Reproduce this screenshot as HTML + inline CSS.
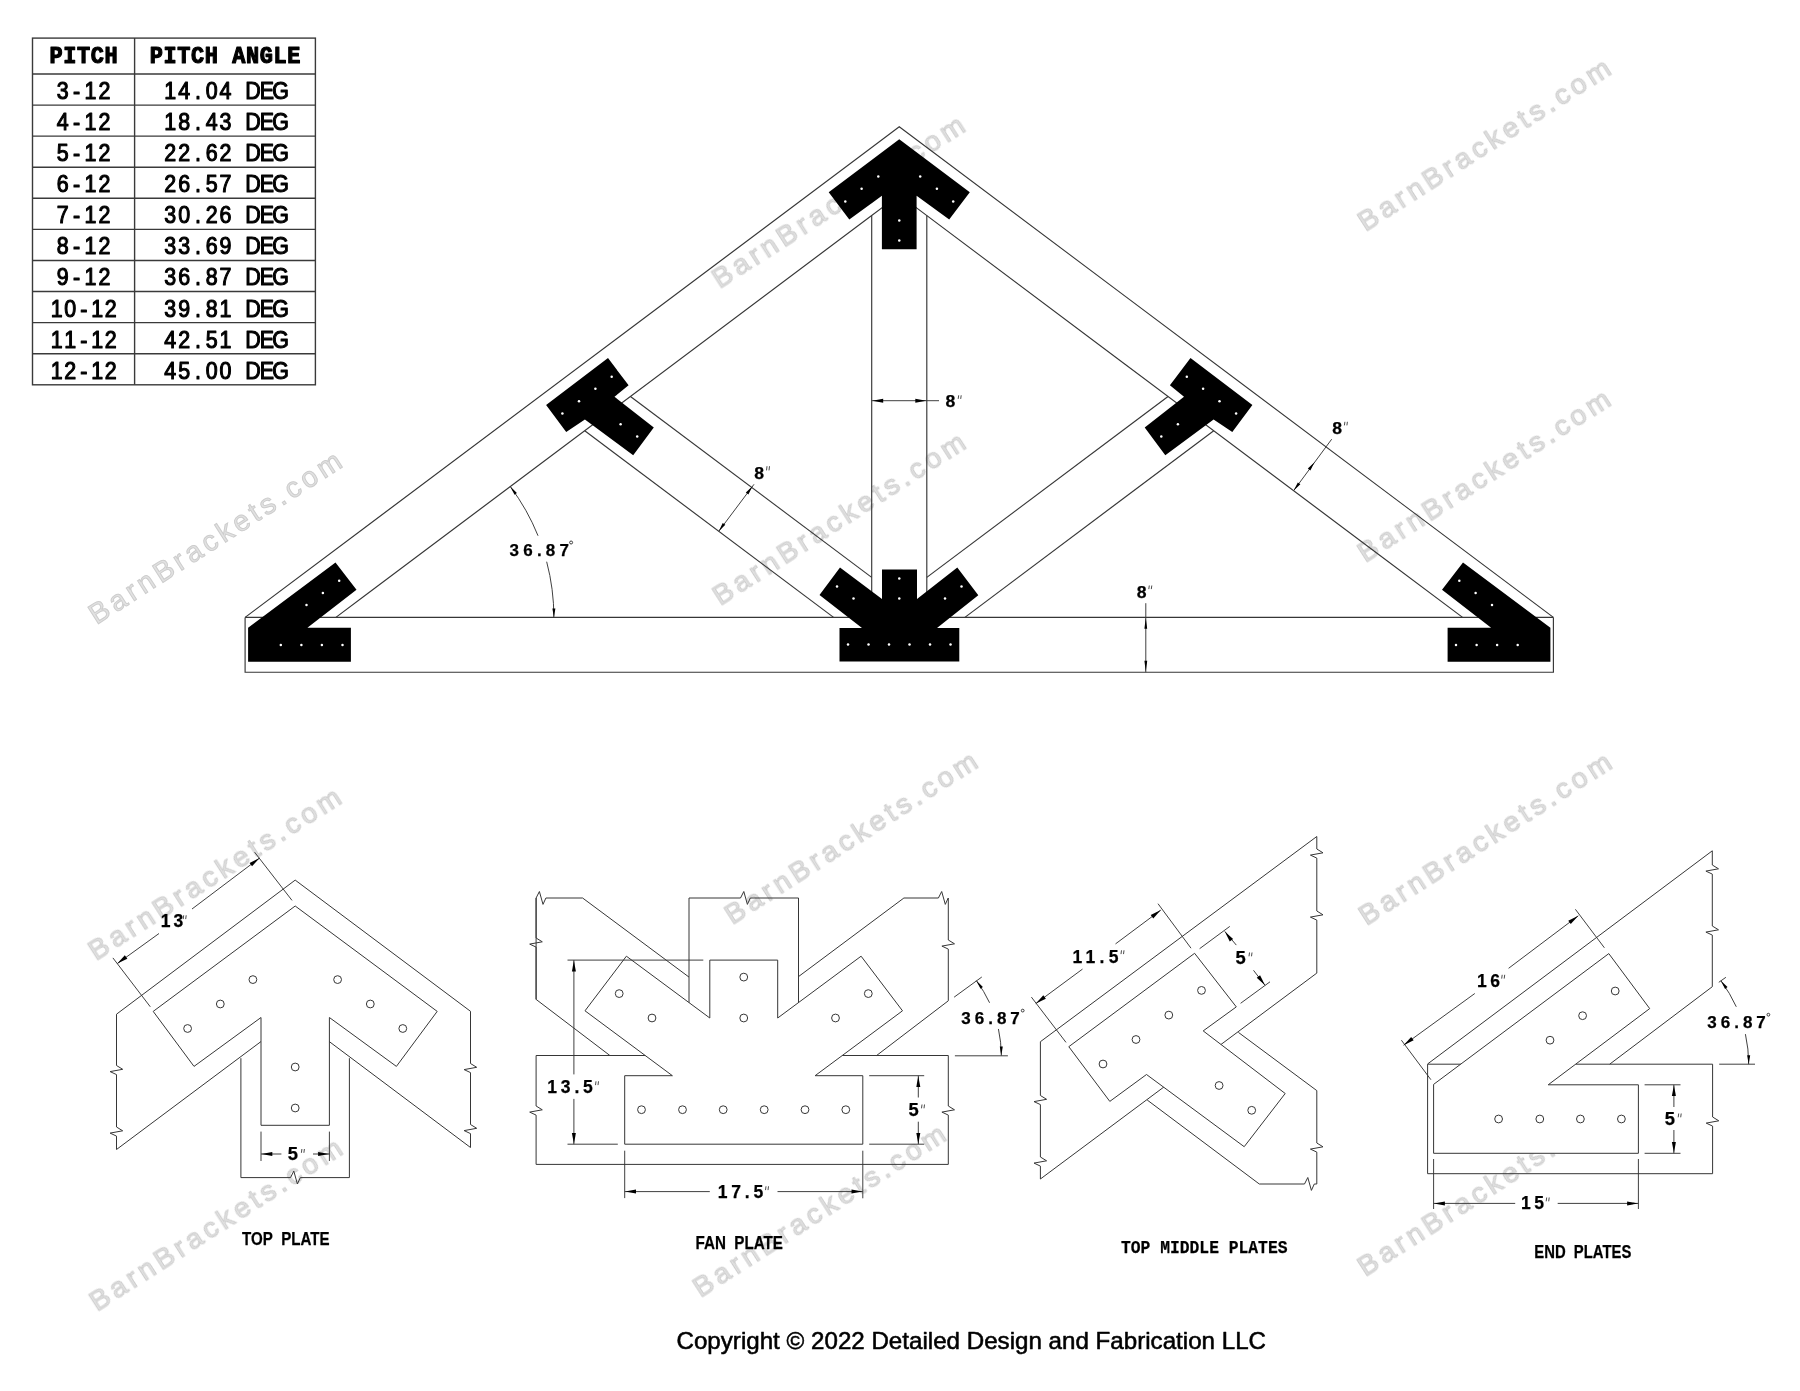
<!DOCTYPE html><html><head><meta charset="utf-8"><style>html,body{margin:0;padding:0;background:#fff;overflow:hidden}svg{display:block;filter:grayscale(1)}</style></head><body>
<svg width="1800" height="1391" viewBox="0 0 1800 1391">
<rect width="1800" height="1391" fill="#fff"/>
<defs><filter id="wb" x="-5%" y="-5%" width="110%" height="110%"><feGaussianBlur stdDeviation="0.45"/></filter></defs>
<g filter="url(#wb)">
<text x="96.5" y="625.1" transform="rotate(-32.7 96.5 625.1)" font-family="Liberation Sans" font-size="28.5" font-weight="normal" fill="#e2e2e2" stroke="#cdcdcd" stroke-width="1.0" textLength="294" lengthAdjust="spacing">BarnBrackets.com</text>
<text x="96.1" y="961.2" transform="rotate(-32.7 96.1 961.2)" font-family="Liberation Sans" font-size="28.5" font-weight="normal" fill="#e2e2e2" stroke="#cdcdcd" stroke-width="1.0" textLength="294" lengthAdjust="spacing">BarnBrackets.com</text>
<text x="96.9" y="1311.9" transform="rotate(-32.7 96.9 1311.9)" font-family="Liberation Sans" font-size="28.5" font-weight="normal" fill="#e2e2e2" stroke="#cdcdcd" stroke-width="1.0" textLength="294" lengthAdjust="spacing">BarnBrackets.com</text>
<text x="719.7" y="289.2" transform="rotate(-32.7 719.7 289.2)" font-family="Liberation Sans" font-size="28.5" font-weight="normal" fill="#e2e2e2" stroke="#cdcdcd" stroke-width="1.0" textLength="294" lengthAdjust="spacing">BarnBrackets.com</text>
<text x="720.5" y="606.4" transform="rotate(-32.7 720.5 606.4)" font-family="Liberation Sans" font-size="28.5" font-weight="normal" fill="#e2e2e2" stroke="#cdcdcd" stroke-width="1.0" textLength="294" lengthAdjust="spacing">BarnBrackets.com</text>
<text x="732.6" y="925.4" transform="rotate(-32.7 732.6 925.4)" font-family="Liberation Sans" font-size="28.5" font-weight="normal" fill="#e2e2e2" stroke="#cdcdcd" stroke-width="1.0" textLength="294" lengthAdjust="spacing">BarnBrackets.com</text>
<text x="700.5" y="1297.9" transform="rotate(-32.7 700.5 1297.9)" font-family="Liberation Sans" font-size="28.5" font-weight="normal" fill="#e2e2e2" stroke="#cdcdcd" stroke-width="1.0" textLength="294" lengthAdjust="spacing">BarnBrackets.com</text>
<text x="1365.3" y="231.6" transform="rotate(-32.7 1365.3 231.6)" font-family="Liberation Sans" font-size="28.5" font-weight="normal" fill="#e2e2e2" stroke="#cdcdcd" stroke-width="1.0" textLength="294" lengthAdjust="spacing">BarnBrackets.com</text>
<text x="1365.3" y="563" transform="rotate(-32.7 1365.3 563)" font-family="Liberation Sans" font-size="28.5" font-weight="normal" fill="#e2e2e2" stroke="#cdcdcd" stroke-width="1.0" textLength="294" lengthAdjust="spacing">BarnBrackets.com</text>
<text x="1366.3" y="925.7" transform="rotate(-32.7 1366.3 925.7)" font-family="Liberation Sans" font-size="28.5" font-weight="normal" fill="#e2e2e2" stroke="#cdcdcd" stroke-width="1.0" textLength="294" lengthAdjust="spacing">BarnBrackets.com</text>
<text x="1365.3" y="1277.1" transform="rotate(-32.7 1365.3 1277.1)" font-family="Liberation Sans" font-size="28.5" font-weight="normal" fill="#e2e2e2" stroke="#cdcdcd" stroke-width="1.0" textLength="294" lengthAdjust="spacing">BarnBrackets.com</text>
</g>
<rect x="32.5" y="38.1" width="282.9" height="346.7" fill="none" stroke="#3a3a3a" stroke-width="1.4"/>
<line x1="134.6" y1="38.1" x2="134.6" y2="384.8" stroke="#3a3a3a" stroke-width="1.4"/>
<line x1="32.5" y1="74" x2="315.4" y2="74" stroke="#3a3a3a" stroke-width="1.4"/>
<line x1="32.5" y1="105.08" x2="315.4" y2="105.08" stroke="#3a3a3a" stroke-width="1.4"/>
<line x1="32.5" y1="136.16" x2="315.4" y2="136.16" stroke="#3a3a3a" stroke-width="1.4"/>
<line x1="32.5" y1="167.24" x2="315.4" y2="167.24" stroke="#3a3a3a" stroke-width="1.4"/>
<line x1="32.5" y1="198.32" x2="315.4" y2="198.32" stroke="#3a3a3a" stroke-width="1.4"/>
<line x1="32.5" y1="229.4" x2="315.4" y2="229.4" stroke="#3a3a3a" stroke-width="1.4"/>
<line x1="32.5" y1="260.48" x2="315.4" y2="260.48" stroke="#3a3a3a" stroke-width="1.4"/>
<line x1="32.5" y1="291.56" x2="315.4" y2="291.56" stroke="#3a3a3a" stroke-width="1.4"/>
<line x1="32.5" y1="322.64" x2="315.4" y2="322.64" stroke="#3a3a3a" stroke-width="1.4"/>
<line x1="32.5" y1="353.72" x2="315.4" y2="353.72" stroke="#3a3a3a" stroke-width="1.4"/>
<text x="62.22 77.5 92.78 108.06 123.33" y="63.1" transform="scale(0.9 1)" text-anchor="middle" font-family="Liberation Mono" font-size="24.3" font-weight="bold" fill="#000" stroke="#000" stroke-width="1.2" stroke-linejoin="round">PITCH</text>
<text x="173.61 188.89 204.17 219.44 234.72 250 265.28 280.56 295.83 311.11 326.39" y="63.1" transform="scale(0.9 1)" text-anchor="middle" font-family="Liberation Mono" font-size="24.3" font-weight="bold" fill="#000" stroke="#000" stroke-width="1.2" stroke-linejoin="round">PITCH&#160;ANGLE</text>
<text x="69.67 85.11 100.56 116" y="98.9" transform="scale(0.9 1)" text-anchor="middle" font-family="Liberation Sans" font-size="23.8" font-weight="normal" fill="#000" stroke="#000" stroke-width="1.1" stroke-linejoin="round">3-12</text>
<text x="189.22 204.56 219.89 235.22 250.56 265.89 281.22 296.56 311.89" y="98.9" transform="scale(0.9 1)" text-anchor="middle" font-family="Liberation Sans" font-size="23.8" font-weight="normal" fill="#000" stroke="#000" stroke-width="1.1" stroke-linejoin="round">14.04&#160;DEG</text>
<text x="69.67 85.11 100.56 116" y="129.99" transform="scale(0.9 1)" text-anchor="middle" font-family="Liberation Sans" font-size="23.8" font-weight="normal" fill="#000" stroke="#000" stroke-width="1.1" stroke-linejoin="round">4-12</text>
<text x="189.22 204.56 219.89 235.22 250.56 265.89 281.22 296.56 311.89" y="129.99" transform="scale(0.9 1)" text-anchor="middle" font-family="Liberation Sans" font-size="23.8" font-weight="normal" fill="#000" stroke="#000" stroke-width="1.1" stroke-linejoin="round">18.43&#160;DEG</text>
<text x="69.67 85.11 100.56 116" y="161.08" transform="scale(0.9 1)" text-anchor="middle" font-family="Liberation Sans" font-size="23.8" font-weight="normal" fill="#000" stroke="#000" stroke-width="1.1" stroke-linejoin="round">5-12</text>
<text x="189.22 204.56 219.89 235.22 250.56 265.89 281.22 296.56 311.89" y="161.08" transform="scale(0.9 1)" text-anchor="middle" font-family="Liberation Sans" font-size="23.8" font-weight="normal" fill="#000" stroke="#000" stroke-width="1.1" stroke-linejoin="round">22.62&#160;DEG</text>
<text x="69.67 85.11 100.56 116" y="192.17" transform="scale(0.9 1)" text-anchor="middle" font-family="Liberation Sans" font-size="23.8" font-weight="normal" fill="#000" stroke="#000" stroke-width="1.1" stroke-linejoin="round">6-12</text>
<text x="189.22 204.56 219.89 235.22 250.56 265.89 281.22 296.56 311.89" y="192.17" transform="scale(0.9 1)" text-anchor="middle" font-family="Liberation Sans" font-size="23.8" font-weight="normal" fill="#000" stroke="#000" stroke-width="1.1" stroke-linejoin="round">26.57&#160;DEG</text>
<text x="69.67 85.11 100.56 116" y="223.26" transform="scale(0.9 1)" text-anchor="middle" font-family="Liberation Sans" font-size="23.8" font-weight="normal" fill="#000" stroke="#000" stroke-width="1.1" stroke-linejoin="round">7-12</text>
<text x="189.22 204.56 219.89 235.22 250.56 265.89 281.22 296.56 311.89" y="223.26" transform="scale(0.9 1)" text-anchor="middle" font-family="Liberation Sans" font-size="23.8" font-weight="normal" fill="#000" stroke="#000" stroke-width="1.1" stroke-linejoin="round">30.26&#160;DEG</text>
<text x="69.67 85.11 100.56 116" y="254.35" transform="scale(0.9 1)" text-anchor="middle" font-family="Liberation Sans" font-size="23.8" font-weight="normal" fill="#000" stroke="#000" stroke-width="1.1" stroke-linejoin="round">8-12</text>
<text x="189.22 204.56 219.89 235.22 250.56 265.89 281.22 296.56 311.89" y="254.35" transform="scale(0.9 1)" text-anchor="middle" font-family="Liberation Sans" font-size="23.8" font-weight="normal" fill="#000" stroke="#000" stroke-width="1.1" stroke-linejoin="round">33.69&#160;DEG</text>
<text x="69.67 85.11 100.56 116" y="285.44" transform="scale(0.9 1)" text-anchor="middle" font-family="Liberation Sans" font-size="23.8" font-weight="normal" fill="#000" stroke="#000" stroke-width="1.1" stroke-linejoin="round">9-12</text>
<text x="189.22 204.56 219.89 235.22 250.56 265.89 281.22 296.56 311.89" y="285.44" transform="scale(0.9 1)" text-anchor="middle" font-family="Liberation Sans" font-size="23.8" font-weight="normal" fill="#000" stroke="#000" stroke-width="1.1" stroke-linejoin="round">36.87&#160;DEG</text>
<text x="63.11 78.11 93.11 108.11 123.11" y="316.53" transform="scale(0.9 1)" text-anchor="middle" font-family="Liberation Sans" font-size="23.8" font-weight="normal" fill="#000" stroke="#000" stroke-width="1.1" stroke-linejoin="round">10-12</text>
<text x="189.22 204.56 219.89 235.22 250.56 265.89 281.22 296.56 311.89" y="316.53" transform="scale(0.9 1)" text-anchor="middle" font-family="Liberation Sans" font-size="23.8" font-weight="normal" fill="#000" stroke="#000" stroke-width="1.1" stroke-linejoin="round">39.81&#160;DEG</text>
<text x="63.11 78.11 93.11 108.11 123.11" y="347.62" transform="scale(0.9 1)" text-anchor="middle" font-family="Liberation Sans" font-size="23.8" font-weight="normal" fill="#000" stroke="#000" stroke-width="1.1" stroke-linejoin="round">11-12</text>
<text x="189.22 204.56 219.89 235.22 250.56 265.89 281.22 296.56 311.89" y="347.62" transform="scale(0.9 1)" text-anchor="middle" font-family="Liberation Sans" font-size="23.8" font-weight="normal" fill="#000" stroke="#000" stroke-width="1.1" stroke-linejoin="round">42.51&#160;DEG</text>
<text x="63.11 78.11 93.11 108.11 123.11" y="378.71" transform="scale(0.9 1)" text-anchor="middle" font-family="Liberation Sans" font-size="23.8" font-weight="normal" fill="#000" stroke="#000" stroke-width="1.1" stroke-linejoin="round">12-12</text>
<text x="189.22 204.56 219.89 235.22 250.56 265.89 281.22 296.56 311.89" y="378.71" transform="scale(0.9 1)" text-anchor="middle" font-family="Liberation Sans" font-size="23.8" font-weight="normal" fill="#000" stroke="#000" stroke-width="1.1" stroke-linejoin="round">45.00&#160;DEG</text>
<polyline points="245.1,617.4 245.1,672.2 1553.4,672.2 1553.4,617.4" fill="none" stroke="#363636" stroke-width="1.15" stroke-linejoin="miter"/>
<line x1="245.1" y1="617.4" x2="1553.4" y2="617.4" stroke="#363636" stroke-width="1.15"/>
<polyline points="245.1,617.4 899.25,126.79 1553.4,617.4" fill="none" stroke="#363636" stroke-width="1.15" stroke-linejoin="miter"/>
<polyline points="335.9,617.4 899.25,194.89 1462.6,617.4" fill="none" stroke="#363636" stroke-width="1.15" stroke-linejoin="miter"/>
<line x1="871.7" y1="215.55" x2="871.7" y2="617.4" stroke="#363636" stroke-width="1.15"/>
<line x1="926.8" y1="215.55" x2="926.8" y2="617.4" stroke="#363636" stroke-width="1.15"/>
<line x1="630.47" y1="396.48" x2="871.7" y2="577.4" stroke="#363636" stroke-width="1.15"/>
<line x1="584.75" y1="430.76" x2="833.6" y2="617.4" stroke="#363636" stroke-width="1.15"/>
<line x1="1168.03" y1="396.48" x2="926.8" y2="577.4" stroke="#363636" stroke-width="1.15"/>
<line x1="1213.75" y1="430.76" x2="964.9" y2="617.4" stroke="#363636" stroke-width="1.15"/>
<polygon points="899.25,139.3 969.8,192.3 949.2,219.5 916.6,195.8 916.6,249.2 881.9,249.2 881.9,195.8 849.3,219.5 828.7,192.3" fill="#000" stroke="none" stroke-width="1.1"/>
<polygon points="546.1,404.9 608,358.1 628.6,385.3 614.5,396.8 653.8,427.5 633.2,455.2 584.9,419.5 566.2,432.1" fill="#000" stroke="none" stroke-width="1.1"/>
<polygon points="1252.4,404.9 1190.5,358.1 1169.9,385.3 1184,396.8 1144.7,427.5 1165.3,455.2 1213.6,419.5 1232.3,432.1" fill="#000" stroke="none" stroke-width="1.1"/>
<polygon points="839.5,628 862,628 819.5,595 840,567.5 882,599 882,569.5 917,569.5 917,599 957.3,567.5 978.3,595.3 937,628 959.3,628 959.3,661.5 839.5,661.5" fill="#000" stroke="none" stroke-width="1.1"/>
<polygon points="248.1,661.7 248.1,627.8 335.5,562.6 356.5,589.7 307.4,627.8 350.9,627.8 350.9,661.7" fill="#000" stroke="none" stroke-width="1.1"/>
<polygon points="1550.4,661.7 1550.4,627.8 1463,562.6 1442,589.7 1491.1,627.8 1447.6,627.8 1447.6,661.7" fill="#000" stroke="none" stroke-width="1.1"/>
<circle cx="845.3" cy="201.4" r="1.25" fill="#fff" stroke="none" stroke-width="1.0"/>
<circle cx="953.2" cy="201.4" r="1.25" fill="#fff" stroke="none" stroke-width="1.0"/>
<circle cx="861.6" cy="188.8" r="1.25" fill="#fff" stroke="none" stroke-width="1.0"/>
<circle cx="936.9" cy="188.8" r="1.25" fill="#fff" stroke="none" stroke-width="1.0"/>
<circle cx="878.3" cy="176.5" r="1.25" fill="#fff" stroke="none" stroke-width="1.0"/>
<circle cx="920.2" cy="176.5" r="1.25" fill="#fff" stroke="none" stroke-width="1.0"/>
<circle cx="899.25" cy="220.4" r="1.25" fill="#fff" stroke="none" stroke-width="1.0"/>
<circle cx="899.25" cy="240.5" r="1.25" fill="#fff" stroke="none" stroke-width="1.0"/>
<circle cx="562.4" cy="413.4" r="1.25" fill="#fff" stroke="none" stroke-width="1.0"/>
<circle cx="1236.1" cy="413.4" r="1.25" fill="#fff" stroke="none" stroke-width="1.0"/>
<circle cx="579" cy="401.2" r="1.25" fill="#fff" stroke="none" stroke-width="1.0"/>
<circle cx="1219.5" cy="401.2" r="1.25" fill="#fff" stroke="none" stroke-width="1.0"/>
<circle cx="595.4" cy="388.8" r="1.25" fill="#fff" stroke="none" stroke-width="1.0"/>
<circle cx="1203.1" cy="388.8" r="1.25" fill="#fff" stroke="none" stroke-width="1.0"/>
<circle cx="611.7" cy="376.7" r="1.25" fill="#fff" stroke="none" stroke-width="1.0"/>
<circle cx="1186.8" cy="376.7" r="1.25" fill="#fff" stroke="none" stroke-width="1.0"/>
<circle cx="620.6" cy="424.2" r="1.25" fill="#fff" stroke="none" stroke-width="1.0"/>
<circle cx="1177.9" cy="424.2" r="1.25" fill="#fff" stroke="none" stroke-width="1.0"/>
<circle cx="637.2" cy="436.4" r="1.25" fill="#fff" stroke="none" stroke-width="1.0"/>
<circle cx="1161.3" cy="436.4" r="1.25" fill="#fff" stroke="none" stroke-width="1.0"/>
<circle cx="848" cy="644.5" r="1.25" fill="#fff" stroke="none" stroke-width="1.0"/>
<circle cx="868.5" cy="644.5" r="1.25" fill="#fff" stroke="none" stroke-width="1.0"/>
<circle cx="889" cy="644.5" r="1.25" fill="#fff" stroke="none" stroke-width="1.0"/>
<circle cx="909.5" cy="644.5" r="1.25" fill="#fff" stroke="none" stroke-width="1.0"/>
<circle cx="930" cy="644.5" r="1.25" fill="#fff" stroke="none" stroke-width="1.0"/>
<circle cx="950.5" cy="644.5" r="1.25" fill="#fff" stroke="none" stroke-width="1.0"/>
<circle cx="837" cy="586.5" r="1.25" fill="#fff" stroke="none" stroke-width="1.0"/>
<circle cx="961.5" cy="586.5" r="1.25" fill="#fff" stroke="none" stroke-width="1.0"/>
<circle cx="853.5" cy="598.5" r="1.25" fill="#fff" stroke="none" stroke-width="1.0"/>
<circle cx="945" cy="598.5" r="1.25" fill="#fff" stroke="none" stroke-width="1.0"/>
<circle cx="899.25" cy="578.5" r="1.25" fill="#fff" stroke="none" stroke-width="1.0"/>
<circle cx="899.25" cy="598.5" r="1.25" fill="#fff" stroke="none" stroke-width="1.0"/>
<circle cx="280.8" cy="644.9" r="1.25" fill="#fff" stroke="none" stroke-width="1.0"/>
<circle cx="1517.7" cy="644.9" r="1.25" fill="#fff" stroke="none" stroke-width="1.0"/>
<circle cx="301.4" cy="644.9" r="1.25" fill="#fff" stroke="none" stroke-width="1.0"/>
<circle cx="1497.1" cy="644.9" r="1.25" fill="#fff" stroke="none" stroke-width="1.0"/>
<circle cx="321.9" cy="644.9" r="1.25" fill="#fff" stroke="none" stroke-width="1.0"/>
<circle cx="1476.6" cy="644.9" r="1.25" fill="#fff" stroke="none" stroke-width="1.0"/>
<circle cx="342.5" cy="644.9" r="1.25" fill="#fff" stroke="none" stroke-width="1.0"/>
<circle cx="1456" cy="644.9" r="1.25" fill="#fff" stroke="none" stroke-width="1.0"/>
<circle cx="306.5" cy="605.1" r="1.25" fill="#fff" stroke="none" stroke-width="1.0"/>
<circle cx="1492" cy="605.1" r="1.25" fill="#fff" stroke="none" stroke-width="1.0"/>
<circle cx="322.9" cy="593" r="1.25" fill="#fff" stroke="none" stroke-width="1.0"/>
<circle cx="1475.6" cy="593" r="1.25" fill="#fff" stroke="none" stroke-width="1.0"/>
<circle cx="339.2" cy="580.8" r="1.25" fill="#fff" stroke="none" stroke-width="1.0"/>
<circle cx="1459.3" cy="580.8" r="1.25" fill="#fff" stroke="none" stroke-width="1.0"/>
<line x1="871.7" y1="400.7" x2="939" y2="400.7" stroke="#363636" stroke-width="0.95"/>
<polygon points="872.2,400.7 883.2,398.7 883.2,402.7" fill="#000" stroke="none" stroke-width="1.1"/>
<polygon points="926.3,400.7 915.3,402.7 915.3,398.7" fill="#000" stroke="none" stroke-width="1.1"/>
<text x="945.6" y="406.8" font-family="Liberation Sans" font-size="16.5" font-weight="bold" fill="#000" textLength="9.8" lengthAdjust="spacingAndGlyphs" stroke="#000" stroke-width="0.25" stroke-linejoin="round">8</text>
<line x1="958.7" y1="395.3" x2="958.2" y2="398.9" stroke="#363636" stroke-width="0.9"/>
<line x1="961.2" y1="395.3" x2="960.7" y2="398.9" stroke="#363636" stroke-width="0.9"/>
<line x1="718.8" y1="531.2" x2="754" y2="484.3" stroke="#363636" stroke-width="0.95"/>
<polygon points="718.8,531.2 722.71,522.94 725.32,524.79" fill="#000" stroke="none" stroke-width="1.1"/>
<polygon points="752.5,486.3 748.38,494.46 745.82,492.54" fill="#000" stroke="none" stroke-width="1.1"/>
<text x="754.3" y="478.6" font-family="Liberation Sans" font-size="16.5" font-weight="bold" fill="#000" textLength="9.8" lengthAdjust="spacingAndGlyphs" stroke="#000" stroke-width="0.25" stroke-linejoin="round">8</text>
<line x1="767" y1="466.2" x2="766.5" y2="470.4" stroke="#363636" stroke-width="0.9"/>
<line x1="769.5" y1="466.2" x2="769" y2="470.4" stroke="#363636" stroke-width="0.9"/>
<line x1="1293.7" y1="490.6" x2="1331.7" y2="439.2" stroke="#363636" stroke-width="0.95"/>
<polygon points="1293.7,490.6 1297.82,482.44 1300.38,484.36" fill="#000" stroke="none" stroke-width="1.1"/>
<polygon points="1314.5,462.3 1310.38,470.46 1307.82,468.54" fill="#000" stroke="none" stroke-width="1.1"/>
<text x="1332.2" y="433.6" font-family="Liberation Sans" font-size="16.5" font-weight="bold" fill="#000" textLength="9.8" lengthAdjust="spacingAndGlyphs" stroke="#000" stroke-width="0.25" stroke-linejoin="round">8</text>
<line x1="1344.9" y1="421.8" x2="1344.4" y2="425.4" stroke="#363636" stroke-width="0.9"/>
<line x1="1347.4" y1="421.8" x2="1346.9" y2="425.4" stroke="#363636" stroke-width="0.9"/>
<path d="M538.03 535.74 A218 218 0 0 0 510.3 486.6" fill="none" stroke="#363636" stroke-width="0.95"/>
<path d="M553.9 617.4 A218 218 0 0 0 546.67 561.71" fill="none" stroke="#363636" stroke-width="0.95"/>
<polygon points="510.3,486.6 516.9,492.9 514.5,494.7" fill="#000" stroke="none" stroke-width="1.1"/>
<polygon points="553.9,617.4 552.4,608.4 555.4,608.4" fill="#000" stroke="none" stroke-width="1.1"/>
<text x="509.5" y="555.8" font-family="Liberation Sans" font-size="17" font-weight="bold" fill="#000" textLength="59.5" lengthAdjust="spacing" stroke="#000" stroke-width="0.25" stroke-linejoin="round">36.87</text>
<circle cx="571.1" cy="542.5" r="1.5" fill="none" stroke="#111" stroke-width="0.8"/>
<line x1="1145.8" y1="603.2" x2="1145.8" y2="672.2" stroke="#363636" stroke-width="0.95"/>
<polygon points="1145.8,617.8 1147.2,628.8 1144.4,628.8" fill="#000" stroke="none" stroke-width="1.1"/>
<polygon points="1145.8,671.8 1144.4,660.8 1147.2,660.8" fill="#000" stroke="none" stroke-width="1.1"/>
<text x="1136.7" y="597.8" font-family="Liberation Sans" font-size="16.5" font-weight="bold" fill="#000" textLength="9.8" lengthAdjust="spacingAndGlyphs" stroke="#000" stroke-width="0.25" stroke-linejoin="round">8</text>
<line x1="1149.3" y1="585.5" x2="1148.8" y2="589.1" stroke="#363636" stroke-width="0.9"/>
<line x1="1151.8" y1="585.5" x2="1151.3" y2="589.1" stroke="#363636" stroke-width="0.9"/>
<polyline points="116.5,1014.2 295.2,880.1 470.5,1011.3" fill="none" stroke="#363636" stroke-width="1.0" stroke-linejoin="miter"/>
<polyline points="116.5,1014.2 116.5,1065.5 122.7,1069.3 110.1,1071.6 116.5,1074.6 116.5,1127 122.7,1130.8 110.1,1133.1 116.5,1136.1 116.5,1149.5" fill="none" stroke="#363636" stroke-width="1.0" stroke-linejoin="miter"/>
<polyline points="470.5,1011.3 470.5,1063.5 476.7,1067.3 464.1,1069.6 470.5,1072.6 470.5,1124.5 476.7,1128.3 464.1,1130.6 470.5,1133.6 470.5,1147.5" fill="none" stroke="#363636" stroke-width="1.0" stroke-linejoin="miter"/>
<polyline points="116.5,1149.5 295.2,1016 470.5,1147.5" fill="none" stroke="#363636" stroke-width="1.0" stroke-linejoin="miter"/>
<line x1="240.9" y1="1058.2" x2="240.9" y2="1177.6" stroke="#363636" stroke-width="1.0"/>
<line x1="349.4" y1="1058.2" x2="349.4" y2="1177.6" stroke="#363636" stroke-width="1.0"/>
<polyline points="240.9,1177.6 290.5,1177.6 293.8,1171.1 297.4,1184 300.3,1177.6 349.4,1177.6" fill="none" stroke="#363636" stroke-width="1.0" stroke-linejoin="miter"/>
<polygon points="295.2,906 437.2,1011.4 396.4,1066.4 329.4,1017.5 329.4,1125.3 261,1125.3 261,1017.5 194,1066.4 153.2,1011.4" fill="#fff" stroke="#363636" stroke-width="1.0"/>
<circle cx="187.6" cy="1028.5" r="3.9" fill="none" stroke="#363636" stroke-width="1.0"/>
<circle cx="220.3" cy="1004" r="3.9" fill="none" stroke="#363636" stroke-width="1.0"/>
<circle cx="252.9" cy="979.6" r="3.9" fill="none" stroke="#363636" stroke-width="1.0"/>
<circle cx="337.6" cy="979.6" r="3.9" fill="none" stroke="#363636" stroke-width="1.0"/>
<circle cx="370.3" cy="1004" r="3.9" fill="none" stroke="#363636" stroke-width="1.0"/>
<circle cx="402.8" cy="1028.5" r="3.9" fill="none" stroke="#363636" stroke-width="1.0"/>
<circle cx="295.2" cy="1067" r="3.9" fill="none" stroke="#363636" stroke-width="1.0"/>
<circle cx="295.2" cy="1108" r="3.9" fill="none" stroke="#363636" stroke-width="1.0"/>
<line x1="112.9" y1="957.9" x2="150.3" y2="1006.8" stroke="#363636" stroke-width="0.95"/>
<line x1="254.6" y1="852.2" x2="292" y2="900.4" stroke="#363636" stroke-width="0.95"/>
<line x1="117.3" y1="963.6" x2="159" y2="933.5" stroke="#363636" stroke-width="0.95"/>
<line x1="192" y1="909" x2="259.6" y2="858" stroke="#363636" stroke-width="0.95"/>
<polygon points="117.3,963.6 124.84,955.32 127.36,958.68" fill="#000" stroke="none" stroke-width="1.1"/>
<polygon points="259.6,858 252.06,866.28 249.54,862.92" fill="#000" stroke="none" stroke-width="1.1"/>
<text x="160.8" y="927.2" font-family="Liberation Sans" font-size="17.5" font-weight="bold" fill="#000" textLength="22.5" lengthAdjust="spacing" stroke="#000" stroke-width="0.25" stroke-linejoin="round">13</text>
<line x1="183.7" y1="915.3" x2="183.2" y2="919.1" stroke="#363636" stroke-width="0.9"/>
<line x1="186.2" y1="915.3" x2="185.7" y2="919.1" stroke="#363636" stroke-width="0.9"/>
<line x1="261" y1="1131.6" x2="261" y2="1161" stroke="#363636" stroke-width="0.95"/>
<line x1="329.4" y1="1131.6" x2="329.4" y2="1161" stroke="#363636" stroke-width="0.95"/>
<line x1="261" y1="1154" x2="281.4" y2="1154" stroke="#363636" stroke-width="0.95"/>
<line x1="313" y1="1154" x2="329.4" y2="1154" stroke="#363636" stroke-width="0.95"/>
<polygon points="261.3,1154 272.3,1152 272.3,1156" fill="#000" stroke="none" stroke-width="1.1"/>
<polygon points="329.1,1154 318.1,1156 318.1,1152" fill="#000" stroke="none" stroke-width="1.1"/>
<text x="287.8" y="1159.6" font-family="Liberation Sans" font-size="17.5" font-weight="bold" fill="#000" textLength="10.2" lengthAdjust="spacingAndGlyphs" stroke="#000" stroke-width="0.25" stroke-linejoin="round">5</text>
<line x1="301.9" y1="1149" x2="301.4" y2="1152.8" stroke="#363636" stroke-width="0.9"/>
<line x1="304.4" y1="1149" x2="303.9" y2="1152.8" stroke="#363636" stroke-width="0.9"/>
<text x="242" y="1245" font-family="Liberation Sans" font-size="17.5" font-weight="bold" fill="#000" textLength="87.5" lengthAdjust="spacingAndGlyphs" stroke="#000" stroke-width="0.25" stroke-linejoin="round">TOP&#160;&#160;PLATE</text>
<polyline points="545.9,898 582.6,898 689,977.1" fill="none" stroke="#363636" stroke-width="1.0" stroke-linejoin="miter"/>
<polyline points="536.1,999.4 536.1,898" fill="none" stroke="#363636" stroke-width="1.0" stroke-linejoin="miter"/>
<polyline points="536.1,898 539.4,891.5 543,904.4 545.9,898" fill="none" stroke="#363636" stroke-width="1.0" stroke-linejoin="miter"/>
<polyline points="536.1,898 536.1,938 542.3,941.8 529.7,944.1 536.1,947.1 536.1,999.4" fill="none" stroke="#363636" stroke-width="1.0" stroke-linejoin="miter"/>
<line x1="536.1" y1="999.4" x2="609.9" y2="1055.5" stroke="#363636" stroke-width="1.0"/>
<line x1="689" y1="898" x2="689" y2="1003.5" stroke="#363636" stroke-width="1.0"/>
<line x1="798.5" y1="898" x2="798.5" y2="1003.5" stroke="#363636" stroke-width="1.0"/>
<polyline points="689,898 740.5,898 743.8,891.5 747.4,904.4 750.3,898 798.5,898" fill="none" stroke="#363636" stroke-width="1.0" stroke-linejoin="miter"/>
<polyline points="798.5,976.6 903.9,898 938.4,898" fill="none" stroke="#363636" stroke-width="1.0" stroke-linejoin="miter"/>
<polyline points="938.4,898 941.7,891.5 945.3,904.4 948.2,898" fill="none" stroke="#363636" stroke-width="1.0" stroke-linejoin="miter"/>
<polyline points="948.3,898 948.3,940 954.5,943.8 941.9,946.1 948.3,949.1 948.3,1000.8" fill="none" stroke="#363636" stroke-width="1.0" stroke-linejoin="miter"/>
<line x1="948.3" y1="1000.8" x2="876.6" y2="1055.5" stroke="#363636" stroke-width="1.0"/>
<line x1="536.1" y1="1055.5" x2="948.3" y2="1055.5" stroke="#363636" stroke-width="1.0"/>
<polyline points="536.1,1055.5 536.1,1106 542.3,1109.8 529.7,1112.1 536.1,1115.1 536.1,1164.4" fill="none" stroke="#363636" stroke-width="1.0" stroke-linejoin="miter"/>
<polyline points="948.3,1055.5 948.3,1106 954.5,1109.8 941.9,1112.1 948.3,1115.1 948.3,1164.4" fill="none" stroke="#363636" stroke-width="1.0" stroke-linejoin="miter"/>
<line x1="536.1" y1="1164.4" x2="948.3" y2="1164.4" stroke="#363636" stroke-width="1.0"/>
<polygon points="624.7,1144.2 624.7,1075.7 672.4,1075.7 585,1010.8 626.4,956.2 709.8,1018 709.8,960.1 777.7,960.1 777.7,1018 861.1,956.2 902.5,1010.8 815.1,1075.7 862.8,1075.7 862.8,1144.2" fill="#fff" stroke="#363636" stroke-width="1.0"/>
<circle cx="641.5" cy="1109.7" r="3.9" fill="none" stroke="#363636" stroke-width="1.0"/>
<circle cx="682.5" cy="1109.7" r="3.9" fill="none" stroke="#363636" stroke-width="1.0"/>
<circle cx="723.2" cy="1109.7" r="3.9" fill="none" stroke="#363636" stroke-width="1.0"/>
<circle cx="764.2" cy="1109.7" r="3.9" fill="none" stroke="#363636" stroke-width="1.0"/>
<circle cx="805" cy="1109.7" r="3.9" fill="none" stroke="#363636" stroke-width="1.0"/>
<circle cx="845.8" cy="1109.7" r="3.9" fill="none" stroke="#363636" stroke-width="1.0"/>
<circle cx="743.75" cy="977.1" r="3.9" fill="none" stroke="#363636" stroke-width="1.0"/>
<circle cx="743.75" cy="1018" r="3.9" fill="none" stroke="#363636" stroke-width="1.0"/>
<circle cx="619.2" cy="993.6" r="3.9" fill="none" stroke="#363636" stroke-width="1.0"/>
<circle cx="652" cy="1018" r="3.9" fill="none" stroke="#363636" stroke-width="1.0"/>
<circle cx="868.3" cy="993.6" r="3.9" fill="none" stroke="#363636" stroke-width="1.0"/>
<circle cx="835.5" cy="1018" r="3.9" fill="none" stroke="#363636" stroke-width="1.0"/>
<line x1="567.5" y1="960.1" x2="703.3" y2="960.1" stroke="#363636" stroke-width="0.95"/>
<line x1="567.5" y1="1144.2" x2="617.8" y2="1144.2" stroke="#363636" stroke-width="0.95"/>
<line x1="573.9" y1="960.1" x2="573.9" y2="1074.4" stroke="#363636" stroke-width="0.95"/>
<line x1="573.9" y1="1098.9" x2="573.9" y2="1144.2" stroke="#363636" stroke-width="0.95"/>
<polygon points="573.9,960.4 575.9,971.4 571.9,971.4" fill="#000" stroke="none" stroke-width="1.1"/>
<polygon points="573.9,1143.9 571.9,1132.9 575.9,1132.9" fill="#000" stroke="none" stroke-width="1.1"/>
<text x="547.3" y="1093.3" font-family="Liberation Sans" font-size="17.5" font-weight="bold" fill="#000" textLength="45.5" lengthAdjust="spacing" stroke="#000" stroke-width="0.25" stroke-linejoin="round">13.5</text>
<line x1="596" y1="1081.3" x2="595.5" y2="1085.1" stroke="#363636" stroke-width="0.9"/>
<line x1="598.5" y1="1081.3" x2="598" y2="1085.1" stroke="#363636" stroke-width="0.9"/>
<line x1="624.7" y1="1150.7" x2="624.7" y2="1198.1" stroke="#363636" stroke-width="0.95"/>
<line x1="862.8" y1="1150.7" x2="862.8" y2="1198.3" stroke="#363636" stroke-width="0.95"/>
<line x1="624.7" y1="1191.6" x2="709.8" y2="1191.6" stroke="#363636" stroke-width="0.95"/>
<line x1="777.5" y1="1191.6" x2="862.8" y2="1191.6" stroke="#363636" stroke-width="0.95"/>
<polygon points="625,1191.6 636,1189.6 636,1193.6" fill="#000" stroke="none" stroke-width="1.1"/>
<polygon points="862.5,1191.6 851.5,1193.6 851.5,1189.6" fill="#000" stroke="none" stroke-width="1.1"/>
<text x="717.7" y="1198.3" font-family="Liberation Sans" font-size="17.5" font-weight="bold" fill="#000" textLength="45.5" lengthAdjust="spacing" stroke="#000" stroke-width="0.25" stroke-linejoin="round">17.5</text>
<line x1="766" y1="1186.3" x2="765.5" y2="1190.1" stroke="#363636" stroke-width="0.9"/>
<line x1="768.5" y1="1186.3" x2="768" y2="1190.1" stroke="#363636" stroke-width="0.9"/>
<line x1="869.2" y1="1075.7" x2="924.2" y2="1075.7" stroke="#363636" stroke-width="0.95"/>
<line x1="869.2" y1="1144.2" x2="924.2" y2="1144.2" stroke="#363636" stroke-width="0.95"/>
<line x1="918.3" y1="1075.7" x2="918.3" y2="1097.5" stroke="#363636" stroke-width="0.95"/>
<line x1="918.3" y1="1121.7" x2="918.3" y2="1144.2" stroke="#363636" stroke-width="0.95"/>
<polygon points="918.3,1076 920.3,1087 916.3,1087" fill="#000" stroke="none" stroke-width="1.1"/>
<polygon points="918.3,1143.9 916.3,1132.9 920.3,1132.9" fill="#000" stroke="none" stroke-width="1.1"/>
<text x="908.5" y="1116" font-family="Liberation Sans" font-size="17.5" font-weight="bold" fill="#000" textLength="10.2" lengthAdjust="spacingAndGlyphs" stroke="#000" stroke-width="0.25" stroke-linejoin="round">5</text>
<line x1="922" y1="1104.5" x2="921.5" y2="1108.3" stroke="#363636" stroke-width="0.9"/>
<line x1="924.5" y1="1104.5" x2="924" y2="1108.3" stroke="#363636" stroke-width="0.9"/>
<line x1="954.1" y1="997.2" x2="981.8" y2="977" stroke="#363636" stroke-width="0.95"/>
<line x1="954.9" y1="1055.8" x2="1007.9" y2="1055.8" stroke="#363636" stroke-width="0.95"/>
<path d="M989.59 1002.77 A125 125 0 0 0 976.3 980.6" fill="none" stroke="#363636" stroke-width="0.95"/>
<path d="M1001.3 1055.6 A125 125 0 0 0 998.43 1028.97" fill="none" stroke="#363636" stroke-width="0.95"/>
<polygon points="976.3,980.6 982.9,986.9 980.5,988.7" fill="#000" stroke="none" stroke-width="1.1"/>
<polygon points="1001.3,1055.6 999.8,1046.6 1002.8,1046.6" fill="#000" stroke="none" stroke-width="1.1"/>
<text x="961.3" y="1023.5" font-family="Liberation Sans" font-size="17" font-weight="bold" fill="#000" textLength="58.5" lengthAdjust="spacing" stroke="#000" stroke-width="0.25" stroke-linejoin="round">36.87</text>
<circle cx="1022.7" cy="1010.6" r="1.4" fill="none" stroke="#111" stroke-width="0.8"/>
<text x="695.5" y="1248.8" font-family="Liberation Sans" font-size="17.5" font-weight="bold" fill="#000" textLength="87.5" lengthAdjust="spacingAndGlyphs" stroke="#000" stroke-width="0.25" stroke-linejoin="round">FAN&#160;&#160;PLATE</text>
<line x1="1040.4" y1="1041.7" x2="1316.8" y2="836.5" stroke="#363636" stroke-width="1.0"/>
<polyline points="1040.4,1041.7 1040.4,1095.5 1046.6,1099.3 1034,1101.6 1040.4,1104.6 1040.4,1157 1046.6,1160.8 1034,1163.1 1040.4,1166.1 1040.4,1179" fill="none" stroke="#363636" stroke-width="1.0" stroke-linejoin="miter"/>
<polyline points="1316.8,836.5 1316.8,849 1323,852.8 1310.4,855.1 1316.8,858.1 1316.8,911 1323,914.8 1310.4,917.1 1316.8,920.1 1316.8,973.1" fill="none" stroke="#363636" stroke-width="1.0" stroke-linejoin="miter"/>
<line x1="1040.4" y1="1179" x2="1316.8" y2="973.1" stroke="#363636" stroke-width="1.0"/>
<line x1="1238.4" y1="1032.4" x2="1316.8" y2="1090.6" stroke="#363636" stroke-width="1.0"/>
<line x1="1147.2" y1="1100" x2="1259.3" y2="1184" stroke="#363636" stroke-width="1.0"/>
<polyline points="1316.8,1090.6 1316.8,1143 1323,1146.8 1310.4,1149.1 1316.8,1152.1 1316.8,1184" fill="none" stroke="#363636" stroke-width="1.0" stroke-linejoin="miter"/>
<polyline points="1259.3,1184 1304.5,1184 1307.8,1177.5 1311.4,1190.4 1314.3,1184 1316.8,1184" fill="none" stroke="#363636" stroke-width="1.0" stroke-linejoin="miter"/>
<polygon points="1068.8,1046.7 1194.6,953.3 1236.3,1006.9 1203.2,1030.9 1285.2,1093.5 1244.2,1146.7 1146.5,1074.5 1109.8,1101.4" fill="#fff" stroke="#363636" stroke-width="1.0"/>
<circle cx="1103" cy="1064" r="3.9" fill="none" stroke="#363636" stroke-width="1.0"/>
<circle cx="1136" cy="1039.5" r="3.9" fill="none" stroke="#363636" stroke-width="1.0"/>
<circle cx="1168.8" cy="1015.1" r="3.9" fill="none" stroke="#363636" stroke-width="1.0"/>
<circle cx="1201.5" cy="990.4" r="3.9" fill="none" stroke="#363636" stroke-width="1.0"/>
<circle cx="1219.1" cy="1085.5" r="3.9" fill="none" stroke="#363636" stroke-width="1.0"/>
<circle cx="1251.7" cy="1110.3" r="3.9" fill="none" stroke="#363636" stroke-width="1.0"/>
<line x1="1031.4" y1="997.1" x2="1066" y2="1042.4" stroke="#363636" stroke-width="0.95"/>
<line x1="1158" y1="903.7" x2="1191" y2="948.2" stroke="#363636" stroke-width="0.95"/>
<line x1="1035.8" y1="1003.6" x2="1082.5" y2="969.1" stroke="#363636" stroke-width="0.95"/>
<line x1="1115.5" y1="943.9" x2="1160.8" y2="910.1" stroke="#363636" stroke-width="0.95"/>
<polygon points="1035.8,1003.6 1043.34,995.32 1045.86,998.68" fill="#000" stroke="none" stroke-width="1.1"/>
<polygon points="1160.8,910.1 1153.26,918.38 1150.74,915.02" fill="#000" stroke="none" stroke-width="1.1"/>
<text x="1072.4" y="962.8" font-family="Liberation Sans" font-size="17.5" font-weight="bold" fill="#000" textLength="46" lengthAdjust="spacing" stroke="#000" stroke-width="0.25" stroke-linejoin="round">11.5</text>
<line x1="1121.5" y1="950.3" x2="1121" y2="954.1" stroke="#363636" stroke-width="0.9"/>
<line x1="1124" y1="950.3" x2="1123.5" y2="954.1" stroke="#363636" stroke-width="0.9"/>
<line x1="1199.6" y1="948.7" x2="1229.8" y2="926.4" stroke="#363636" stroke-width="0.95"/>
<line x1="1240.6" y1="1003.3" x2="1270" y2="981.8" stroke="#363636" stroke-width="0.95"/>
<line x1="1224.8" y1="931.4" x2="1236.3" y2="945.1" stroke="#363636" stroke-width="0.95"/>
<line x1="1253.5" y1="970.3" x2="1265" y2="985.3" stroke="#363636" stroke-width="0.95"/>
<polygon points="1224.8,931.4 1233.08,938.94 1229.72,941.46" fill="#000" stroke="none" stroke-width="1.1"/>
<polygon points="1265,985.3 1256.72,977.76 1260.08,975.24" fill="#000" stroke="none" stroke-width="1.1"/>
<text x="1235.6" y="964" font-family="Liberation Sans" font-size="17.5" font-weight="bold" fill="#000" textLength="10.2" lengthAdjust="spacingAndGlyphs" stroke="#000" stroke-width="0.25" stroke-linejoin="round">5</text>
<line x1="1249.5" y1="952.5" x2="1249" y2="956.3" stroke="#363636" stroke-width="0.9"/>
<line x1="1252" y1="952.5" x2="1251.5" y2="956.3" stroke="#363636" stroke-width="0.9"/>
<text x="1121" y="1253.2" font-family="Liberation Mono" font-size="18.5" font-weight="bold" fill="#000" textLength="166.5" lengthAdjust="spacingAndGlyphs" stroke="#000" stroke-width="0.25" stroke-linejoin="round">TOP MIDDLE PLATES</text>
<line x1="1427.6" y1="1064.2" x2="1461" y2="1064.2" stroke="#363636" stroke-width="1.0"/>
<line x1="1575.8" y1="1064.2" x2="1712.6" y2="1064.2" stroke="#363636" stroke-width="1.0"/>
<line x1="1427.6" y1="1064.2" x2="1427.6" y2="1173.7" stroke="#363636" stroke-width="1.0"/>
<line x1="1427.6" y1="1173.7" x2="1712.6" y2="1173.7" stroke="#363636" stroke-width="1.0"/>
<polyline points="1712.6,1064.2 1712.6,1117 1718.8,1120.8 1706.2,1123.1 1712.6,1126.1 1712.6,1173.7" fill="none" stroke="#363636" stroke-width="1.0" stroke-linejoin="miter"/>
<line x1="1427.7" y1="1063.9" x2="1712.3" y2="850.8" stroke="#363636" stroke-width="1.0"/>
<line x1="1609.7" y1="1064.2" x2="1712.3" y2="986.7" stroke="#363636" stroke-width="1.0"/>
<polyline points="1712.3,850.8 1712.3,865 1718.5,868.8 1705.9,871.1 1712.3,874.1 1712.3,926 1718.5,929.8 1705.9,932.1 1712.3,935.1 1712.3,986.7" fill="none" stroke="#363636" stroke-width="1.0" stroke-linejoin="miter"/>
<polygon points="1433.6,1153.3 1433.6,1084.4 1608.8,953.6 1649.7,1008.6 1548.2,1084.8 1638.4,1084.8 1638.4,1153.3" fill="#fff" stroke="#363636" stroke-width="1.0"/>
<circle cx="1498.6" cy="1119" r="3.9" fill="none" stroke="#363636" stroke-width="1.0"/>
<circle cx="1539.8" cy="1119" r="3.9" fill="none" stroke="#363636" stroke-width="1.0"/>
<circle cx="1580.4" cy="1119" r="3.9" fill="none" stroke="#363636" stroke-width="1.0"/>
<circle cx="1621.4" cy="1119" r="3.9" fill="none" stroke="#363636" stroke-width="1.0"/>
<circle cx="1550" cy="1040.2" r="3.9" fill="none" stroke="#363636" stroke-width="1.0"/>
<circle cx="1582.6" cy="1015.7" r="3.9" fill="none" stroke="#363636" stroke-width="1.0"/>
<circle cx="1615.2" cy="991" r="3.9" fill="none" stroke="#363636" stroke-width="1.0"/>
<line x1="1401.4" y1="1040.2" x2="1430.9" y2="1079.7" stroke="#363636" stroke-width="0.95"/>
<line x1="1575.4" y1="909.3" x2="1604.4" y2="947.8" stroke="#363636" stroke-width="0.95"/>
<line x1="1403.6" y1="1045.2" x2="1474.8" y2="993.5" stroke="#363636" stroke-width="0.95"/>
<line x1="1508.6" y1="968.3" x2="1578.3" y2="915.8" stroke="#363636" stroke-width="0.95"/>
<polygon points="1403.6,1045.2 1411.14,1036.92 1413.66,1040.28" fill="#000" stroke="none" stroke-width="1.1"/>
<polygon points="1578.3,915.8 1570.76,924.08 1568.24,920.72" fill="#000" stroke="none" stroke-width="1.1"/>
<text x="1476.9" y="986.5" font-family="Liberation Sans" font-size="17.5" font-weight="bold" fill="#000" textLength="23" lengthAdjust="spacing" stroke="#000" stroke-width="0.25" stroke-linejoin="round">16</text>
<line x1="1502.2" y1="974.8" x2="1501.7" y2="978.6" stroke="#363636" stroke-width="0.9"/>
<line x1="1504.7" y1="974.8" x2="1504.2" y2="978.6" stroke="#363636" stroke-width="0.9"/>
<line x1="1644.6" y1="1084.8" x2="1680.5" y2="1084.8" stroke="#363636" stroke-width="0.95"/>
<line x1="1644.6" y1="1153.3" x2="1680.5" y2="1153.3" stroke="#363636" stroke-width="0.95"/>
<line x1="1673.9" y1="1084.8" x2="1673.9" y2="1107" stroke="#363636" stroke-width="0.95"/>
<line x1="1673.9" y1="1130" x2="1673.9" y2="1153.3" stroke="#363636" stroke-width="0.95"/>
<polygon points="1673.9,1085.1 1675.9,1096.1 1671.9,1096.1" fill="#000" stroke="none" stroke-width="1.1"/>
<polygon points="1673.9,1153 1671.9,1142 1675.9,1142" fill="#000" stroke="none" stroke-width="1.1"/>
<text x="1664.7" y="1125.2" font-family="Liberation Sans" font-size="17.5" font-weight="bold" fill="#000" textLength="10.2" lengthAdjust="spacingAndGlyphs" stroke="#000" stroke-width="0.25" stroke-linejoin="round">5</text>
<line x1="1678.7" y1="1113.5" x2="1678.2" y2="1117.3" stroke="#363636" stroke-width="0.9"/>
<line x1="1681.2" y1="1113.5" x2="1680.7" y2="1117.3" stroke="#363636" stroke-width="0.9"/>
<line x1="1433.6" y1="1159" x2="1433.6" y2="1209" stroke="#363636" stroke-width="0.95"/>
<line x1="1638.4" y1="1159" x2="1638.4" y2="1209" stroke="#363636" stroke-width="0.95"/>
<line x1="1433.6" y1="1203.4" x2="1515.2" y2="1203.4" stroke="#363636" stroke-width="0.95"/>
<line x1="1557.7" y1="1203.4" x2="1638.4" y2="1203.4" stroke="#363636" stroke-width="0.95"/>
<polygon points="1433.9,1203.4 1444.9,1201.4 1444.9,1205.4" fill="#000" stroke="none" stroke-width="1.1"/>
<polygon points="1638.1,1203.4 1627.1,1205.4 1627.1,1201.4" fill="#000" stroke="none" stroke-width="1.1"/>
<text x="1521.1" y="1209.2" font-family="Liberation Sans" font-size="17.5" font-weight="bold" fill="#000" textLength="23" lengthAdjust="spacing" stroke="#000" stroke-width="0.25" stroke-linejoin="round">15</text>
<line x1="1546.7" y1="1197.5" x2="1546.2" y2="1201.3" stroke="#363636" stroke-width="0.9"/>
<line x1="1549.2" y1="1197.5" x2="1548.7" y2="1201.3" stroke="#363636" stroke-width="0.9"/>
<line x1="1718.8" y1="982.3" x2="1725.9" y2="977.3" stroke="#363636" stroke-width="0.95"/>
<line x1="1719.2" y1="1064.2" x2="1755" y2="1064.2" stroke="#363636" stroke-width="0.95"/>
<path d="M1736.29 1006.78 A139 139 0 0 0 1720.9 980.8" fill="none" stroke="#363636" stroke-width="0.95"/>
<path d="M1748.7 1064.2 A139 139 0 0 0 1745.41 1034.11" fill="none" stroke="#363636" stroke-width="0.95"/>
<polygon points="1720.9,980.8 1727.5,987.1 1725.1,988.9" fill="#000" stroke="none" stroke-width="1.1"/>
<polygon points="1748.7,1064.2 1747.2,1055.2 1750.2,1055.2" fill="#000" stroke="none" stroke-width="1.1"/>
<text x="1707.3" y="1027.8" font-family="Liberation Sans" font-size="17" font-weight="bold" fill="#000" textLength="58.5" lengthAdjust="spacing" stroke="#000" stroke-width="0.25" stroke-linejoin="round">36.87</text>
<circle cx="1768.4" cy="1014.7" r="1.4" fill="none" stroke="#111" stroke-width="0.8"/>
<text x="1534.3" y="1258.4" font-family="Liberation Sans" font-size="17.5" font-weight="bold" fill="#000" textLength="97" lengthAdjust="spacingAndGlyphs" stroke="#000" stroke-width="0.25" stroke-linejoin="round">END&#160;&#160;PLATES</text>
<text x="676.5" y="1348.6" font-family="Liberation Sans" font-size="24" font-weight="normal" fill="#000" textLength="589.5" lengthAdjust="spacingAndGlyphs" stroke="#000" stroke-width="0.55" stroke-linejoin="round">Copyright © 2022 Detailed Design and Fabrication LLC</text>
</svg></body></html>
